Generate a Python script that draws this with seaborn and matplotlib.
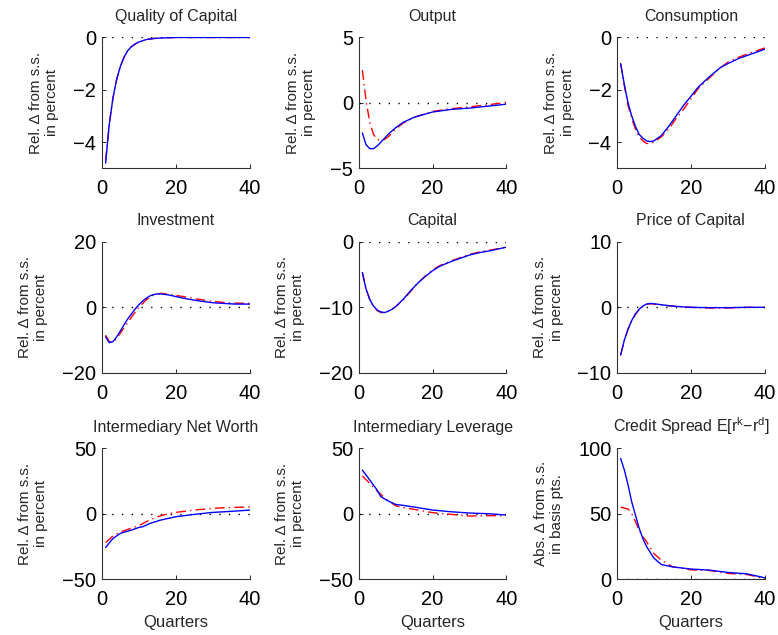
import numpy as np
import pandas as pd
import matplotlib
matplotlib.use("Agg")
import matplotlib.pyplot as plt
import seaborn as sns

# Impulse responses (quarter, value)
q_quality = [1, 2, 3, 4, 5, 6, 7, 8, 9, 10, 12, 14, 16, 20, 30, 40]
quality_blue = [-4.8, -3.3, -2.3, -1.6, -1.1, -0.75, -0.5, -0.35, -0.25, -0.17, -0.08, -0.04, -0.02, 0.0, 0.0, 0.0]
quality_red = [-4.7, -3.3, -2.3, -1.6, -1.1, -0.75, -0.5, -0.35, -0.25, -0.17, -0.08, -0.04, -0.02, 0.0, 0.0, 0.0]

q_out_b = [1, 2, 3, 4, 5, 6, 7, 8, 10, 12, 15, 20, 25, 30, 35, 40]
output_blue = [-2.3, -3.2, -3.5, -3.5, -3.3, -3.0, -2.7, -2.4, -1.9, -1.5, -1.1, -0.7, -0.5, -0.4, -0.25, -0.1]
q_out_r = [1, 2, 3, 4, 5, 6, 7, 8, 10, 12, 15, 20, 25, 30, 35, 40]
output_red = [2.5, 0.2, -1.5, -2.4, -2.8, -2.85, -2.8, -2.6, -2.0, -1.55, -1.1, -0.65, -0.45, -0.3, -0.15, 0.05]

q_cons = [1, 2, 3, 4, 5, 6, 7, 8, 9, 10, 12, 14, 16, 18, 20, 22, 25, 28, 30, 33, 36, 40]
cons_blue = [-1.0, -1.8, -2.5, -3.0, -3.4, -3.7, -3.85, -3.95, -3.98, -3.95, -3.75, -3.4, -3.0, -2.6, -2.25,
             -1.9, -1.5, -1.15, -1.0, -0.8, -0.65, -0.45]
cons_red = [-1.0, -1.85, -2.6, -3.1, -3.5, -3.8, -3.95, -4.05, -4.05, -4.0, -3.8, -3.5, -3.1, -2.75, -2.35,
            -1.95, -1.55, -1.15, -0.95, -0.75, -0.6, -0.4]

q_inv_b = [1, 2, 3, 4, 5, 6, 7, 8, 9, 10, 11, 12, 13, 14, 15, 16, 18, 20, 22, 25, 28, 30, 33, 36, 40]
inv_blue = [-9.0, -10.8, -10.5, -9.0, -7.2, -5.3, -3.5, -2.0, -0.5, 0.8, 1.9, 2.8, 3.5, 3.9, 4.1, 4.1, 3.8,
            3.3, 2.8, 2.2, 1.7, 1.4, 1.2, 1.0, 1.0]
q_inv_r = [1, 2, 3, 4, 6, 8, 10, 12, 14, 16, 18, 22, 26, 30, 35, 40]
inv_red = [-8.5, -10.5, -10.6, -9.5, -6.2, -3.0, 0.0, 2.3, 3.8, 4.3, 4.0, 3.3, 2.5, 1.8, 1.3, 1.2]

q_cap = [1, 2, 3, 4, 5, 6, 7, 8, 9, 10, 12, 14, 16, 18, 20, 22, 25, 28, 30, 33, 36, 40]
cap_blue = [-4.7, -7.2, -8.8, -9.8, -10.4, -10.7, -10.8, -10.6, -10.3, -9.9, -8.8, -7.5, -6.3, -5.3, -4.4,
            -3.7, -3.0, -2.4, -2.0, -1.6, -1.3, -0.8]
cap_red = [-4.6, -7.2, -8.8, -9.8, -10.5, -10.8, -10.8, -10.6, -10.3, -9.9, -8.9, -7.6, -6.3, -5.2, -4.3,
           -3.6, -2.9, -2.3, -1.9, -1.5, -1.2, -0.8]

q_price = [1, 2, 3, 4, 5, 6, 7, 8, 9, 10, 12, 14, 16, 20, 25, 30, 35, 40]
price_blue = [-7.3, -5.0, -3.3, -2.0, -1.0, -0.3, 0.2, 0.5, 0.6, 0.55, 0.4, 0.25, 0.15, 0.0, -0.05, -0.05, 0.0, 0.0]
price_red = [-7.2, -5.1, -3.4, -2.1, -1.1, -0.35, 0.15, 0.45, 0.55, 0.5, 0.4, 0.25, 0.15, 0.0, -0.1, -0.1, 0.0, 0.0]

q_nw_b = [1, 3, 5, 8, 10, 11, 13, 16, 20, 25, 30, 35, 40]
nw_blue = [-25.8, -18.9, -15.0, -12.5, -10.5, -10.0, -7.4, -4.8, -2.3, -0.5, 1.0, 1.8, 2.8]
q_nw_r = [1, 3, 5, 8, 10, 12, 15, 18, 20, 25, 30, 35, 40]
nw_red = [-22.0, -17.0, -14.0, -11.0, -9.2, -6.1, -2.3, 0.0, 1.0, 2.8, 4.1, 4.8, 5.1]

q_lev_b = [1, 3, 5, 6, 8, 10, 12, 15, 20, 25, 30, 35, 40]
lev_blue = [33.4, 25.8, 18.1, 13.0, 9.7, 7.1, 6.4, 5.1, 2.8, 1.5, 0.5, 0.0, -1.0]
q_lev_r = [1, 3, 5, 7, 10, 12, 15, 20, 25, 30, 35, 40]
lev_red = [28.8, 23.2, 17.3, 12.2, 6.1, 4.8, 3.3, 0.8, -0.5, -1.8, -1.5, -1.5]

q_cs_b = [1, 2, 3, 4, 5, 6, 7, 8, 10, 12, 15, 20, 25, 30, 35, 38, 40]
cs_blue = [92.3, 83.4, 72.0, 59.0, 49.0, 39.0, 31.0, 25.0, 16.0, 11.2, 9.4, 7.7, 6.9, 5.1, 4.1, 2.3, 1.0]
q_cs_r = [1, 3, 4, 5, 6, 7, 8, 9, 10, 12, 15, 20, 25, 30, 35, 38, 40]
cs_red = [55.0, 53.6, 50.0, 44.0, 37.5, 32.4, 28.6, 24.0, 19.6, 14.5, 9.4, 7.1, 6.6, 4.3, 3.6, 1.8, 0.0]

titles = ["Quality of Capital", "Output", "Consumption",
          "Investment", "Capital", "Price of Capital",
          "Intermediary Net Worth", "Intermediary Leverage",
          "Credit Spread E[r$^\\mathregular{k}$\u2212r$^\\mathregular{d}$]"]
ylims = [(-5, 0), (-5, 5), (-5, 0), (-20, 20), (-20, 0), (-10, 10), (-50, 50), (-50, 50), (0, 100)]
yticks = [[-4, -2, 0], [-5, 0, 5], [-4, -2, 0], [-20, 0, 20], [-20, -10, 0], [-10, 0, 10],
          [-50, 0, 50], [-50, 0, 50], [0, 50, 100]]

series = [
    (q_quality, quality_blue, q_quality, quality_red),
    (q_out_b, output_blue, q_out_r, output_red),
    (q_cons, cons_blue, q_cons, cons_red),
    (q_inv_b, inv_blue, q_inv_r, inv_red),
    (q_cap, cap_blue, q_cap, cap_red),
    (q_price, price_blue, q_price, price_red),
    (q_nw_b, nw_blue, q_nw_r, nw_red),
    (q_lev_b, lev_blue, q_lev_r, lev_red),
    (q_cs_b, cs_blue, q_cs_r, cs_red),
]

sns.set_style("ticks")
plt.rcParams['font.family'] = ['Liberation Sans', 'DejaVu Sans']
plt.rcParams['mathtext.fontset'] = 'custom'
plt.rcParams['mathtext.rm'] = 'Liberation Sans'
plt.rcParams['mathtext.it'] = 'Liberation Sans'

fig = plt.figure(figsize=(7.78, 6.35), dpi=100)

lefts = [0.131, 0.461, 0.793]
bottoms = [0.735, 0.413, 0.088]
w, h = 0.190, 0.206

for i, (qb, yb, qr, yr) in enumerate(series):
    r, c = divmod(i, 3)
    ax = fig.add_axes([lefts[c], bottoms[r], w, h])
    ax.axhline(0, color='black', linestyle=(0, (1, 6)), linewidth=1.0, zorder=1)
    sns.lineplot(x=qr, y=yr, ax=ax, color='red', linewidth=1.0, zorder=2)
    ax.lines[-1].set_dashes([7, 3, 1, 3])
    sns.lineplot(x=qb, y=yb, ax=ax, color='blue', linewidth=1.0, zorder=3)
    ax.set_xlim(0, 40)
    ax.set_ylim(*ylims[i])
    ax.set_xticks([0, 20, 40])
    ax.set_yticks(yticks[i])
    ax.tick_params(direction='in', length=3, labelsize=14.5, width=0.6, colors='black')
    ax.tick_params(axis='x', pad=8)
    ax.tick_params(axis='y', pad=4)
    for s in ['top', 'right']:
        ax.spines[s].set_visible(False)
    for s in ['left', 'bottom']:
        ax.spines[s].set_linewidth(0.8)
        ax.spines[s].set_color('#333333')
    ax.set_title(titles[i], fontsize=11.5, pad=12)
    if i == 8:
        ax.set_ylabel("Abs. \u0394 from s.s.\nin basis pts.", fontsize=11, labelpad=10)
    else:
        ax.set_ylabel("Rel. \u0394 from s.s.\nin percent", fontsize=11, labelpad=10)
    if r == 2:
        ax.set_xlabel("Quarters", fontsize=12, labelpad=4)

plt.savefig("out.png", dpi=100)
